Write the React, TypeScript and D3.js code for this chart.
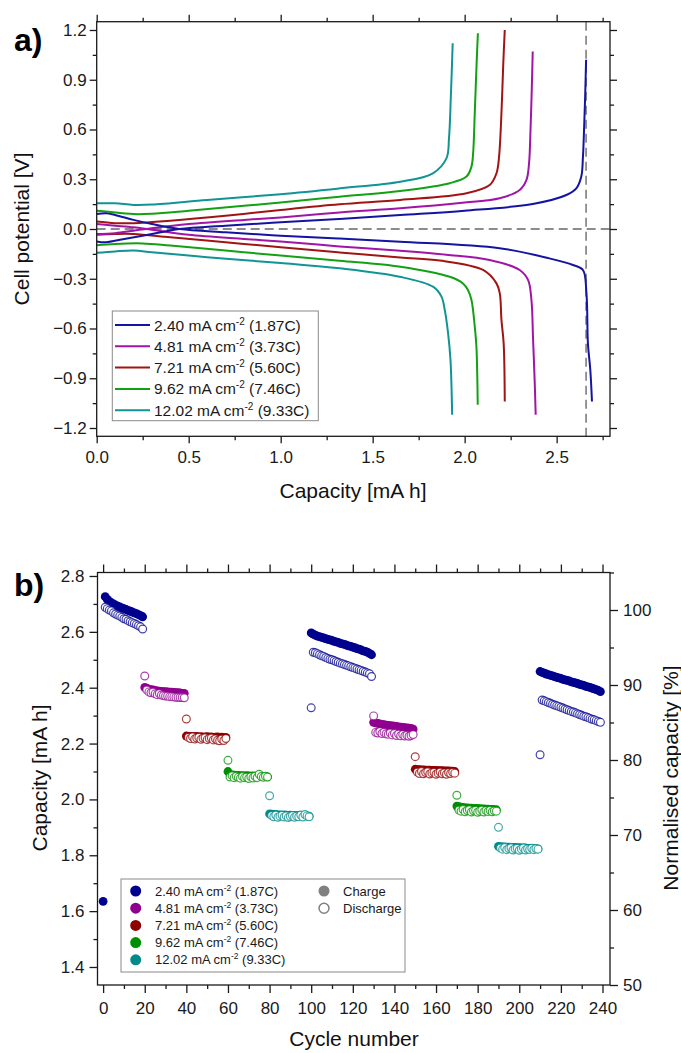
import React, { useEffect, useRef } from "react"
import * as d3 from "d3"

const rateColors = ["#00008f", "#8f008f", "#8f0000", "#008f00", "#008b8b"]
const lineColors = ["#1414a0", "#a014a8", "#a01414", "#14a014", "#109494"]
const currentDensity = ["2.40", "4.81", "7.21", "9.62", "12.02"]
const cRate = ["1.87C", "3.73C", "5.60C", "7.46C", "9.33C"]

// panel a: [capacity mA h, potential V]
const chargeCurves = [
    [[0, -0.075], [0.05, -0.08], [0.15, -0.06], [0.3, -0.03], [0.45, 0.0], [0.7, 0.02], [1.0, 0.04], [1.32, 0.06], [1.65, 0.084], [2.0, 0.11], [2.37, 0.151], [2.553, 0.205], [2.607, 0.245], [2.634, 0.316], [2.643, 0.436], [2.649, 0.6], [2.655, 0.8], [2.66, 1.02]],
    [[0, -0.03], [0.1, -0.025], [0.2, -0.01], [0.3, 0.005], [0.5, 0.03], [0.8, 0.055], [1.0, 0.07], [1.32, 0.1], [1.65, 0.125], [2.0, 0.16], [2.19, 0.185], [2.299, 0.235], [2.336, 0.296], [2.35, 0.396], [2.358, 0.6], [2.365, 0.85], [2.37, 1.07]],
    [[0, 0.045], [0.1, 0.035], [0.2, 0.035], [0.4, 0.05], [0.7, 0.08], [1.0, 0.115], [1.32, 0.149], [1.65, 0.175], [2.01, 0.215], [2.136, 0.265], [2.173, 0.336], [2.187, 0.436], [2.2, 0.7], [2.21, 1.0], [2.218, 1.2]],
    [[0, 0.11], [0.05, 0.105], [0.2, 0.09], [0.3, 0.092], [0.5, 0.11], [0.8, 0.14], [1.0, 0.16], [1.32, 0.195], [1.65, 0.229], [1.919, 0.276], [2.01, 0.316], [2.037, 0.376], [2.046, 0.456], [2.055, 0.7], [2.065, 1.0], [2.072, 1.18]],
    [[0, 0.155], [0.1, 0.155], [0.2, 0.145], [0.3, 0.147], [0.6, 0.175], [1.0, 0.21], [1.32, 0.245], [1.65, 0.285], [1.827, 0.336], [1.901, 0.426], [1.915, 0.55], [1.925, 0.8], [1.935, 1.12]]
]
const dischargeCurves = [
    [[0, 0.09], [0.05, 0.095], [0.1, 0.085], [0.2, 0.055], [0.3, 0.03], [0.45, 0.0], [0.7, -0.02], [1.0, -0.04], [1.32, -0.058], [1.65, -0.077], [2.19, -0.116], [2.46, -0.177], [2.589, -0.217], [2.643, -0.247], [2.662, -0.388], [2.67, -0.69], [2.683, -0.85], [2.692, -1.04]],
    [[0, 0.03], [0.1, 0.02], [0.2, 0.01], [0.3, -0.005], [0.5, -0.035], [0.8, -0.06], [1.0, -0.075], [1.32, -0.105], [1.65, -0.131], [1.9, -0.155], [2.136, -0.187], [2.299, -0.247], [2.345, -0.308], [2.363, -0.428], [2.372, -0.67], [2.381, -0.93], [2.386, -1.12]],
    [[0, -0.035], [0.1, -0.03], [0.2, -0.03], [0.4, -0.05], [0.7, -0.08], [1.0, -0.11], [1.32, -0.141], [1.65, -0.172], [1.865, -0.19], [2.1, -0.247], [2.173, -0.328], [2.191, -0.388], [2.2, -0.549], [2.212, -0.69], [2.218, -1.04]],
    [[0, -0.098], [0.1, -0.09], [0.25, -0.087], [0.4, -0.1], [0.7, -0.13], [1.0, -0.16], [1.32, -0.191], [1.65, -0.227], [1.919, -0.288], [1.991, -0.328], [2.018, -0.368], [2.037, -0.428], [2.055, -0.589], [2.064, -0.71], [2.071, -1.06]],
    [[0, -0.143], [0.1, -0.135], [0.2, -0.13], [0.3, -0.14], [0.6, -0.17], [1.0, -0.205], [1.32, -0.237], [1.647, -0.288], [1.828, -0.348], [1.874, -0.408], [1.892, -0.489], [1.91, -0.629], [1.923, -0.79], [1.932, -1.12]]
]
const dashedCapacity = 2.66

// panel b
const formationCharge = 1.635
const segRate = [0, 1, 2, 3, 4, 0, 1, 2, 3, 4, 0]
const segStart = [1, 20, 40, 60, 80, 100, 130, 150, 170, 190, 210]
const segCharge = [
    [2.726, 2.716, 2.709, 2.704, 2.700, 2.696, 2.692, 2.689, 2.686, 2.683, 2.680, 2.677, 2.674, 2.671, 2.668, 2.665, 2.662, 2.658, 2.654],
    [2.401, 2.398, 2.395, 2.393, 2.392, 2.390, 2.389, 2.388, 2.387, 2.386, 2.386, 2.385, 2.384, 2.384, 2.383, 2.382, 2.382, 2.381, 2.380, 2.380],
    [2.227, 2.226, 2.226, 2.225, 2.225, 2.226, 2.224, 2.225, 2.223, 2.224, 2.225, 2.223, 2.224, 2.222, 2.223, 2.224, 2.222, 2.223, 2.221, 2.222],
    [2.100, 2.090, 2.088, 2.087, 2.086, 2.086, 2.085, 2.085, 2.084, 2.085, 2.084, 2.083, 2.084, 2.083, 2.083, 2.082, 2.083, 2.082, 2.082, 2.081],
    [1.948, 1.947, 1.946, 1.946, 1.945, 1.945, 1.944, 1.945, 1.944, 1.943, 1.944, 1.943, 1.943, 1.942, 1.943, 1.942, 1.942, 1.941, 1.941, 1.940],
    [2.596, 2.592, 2.588, 2.585, 2.583, 2.580, 2.578, 2.576, 2.573, 2.571, 2.569, 2.566, 2.564, 2.562, 2.559, 2.557, 2.555, 2.552, 2.550, 2.548, 2.545, 2.543, 2.540, 2.538, 2.535, 2.532, 2.530, 2.527, 2.523, 2.518],
    [2.276, 2.274, 2.272, 2.270, 2.269, 2.268, 2.266, 2.265, 2.264, 2.263, 2.262, 2.261, 2.260, 2.259, 2.258, 2.257, 2.256, 2.255, 2.254, 2.252],
    [2.108, 2.107, 2.107, 2.106, 2.106, 2.105, 2.105, 2.105, 2.104, 2.104, 2.104, 2.103, 2.103, 2.103, 2.102, 2.102, 2.102, 2.101, 2.101, 2.100],
    [1.976, 1.974, 1.972, 1.971, 1.970, 1.970, 1.969, 1.969, 1.968, 1.968, 1.967, 1.967, 1.966, 1.966, 1.965, 1.965, 1.964, 1.964, 1.963, 1.963],
    [1.832, 1.831, 1.830, 1.830, 1.829, 1.829, 1.828, 1.828, 1.828, 1.827, 1.827, 1.826, 1.826, 1.826, 1.825, 1.825, 1.824, 1.824, 1.823, 1.823],
    [2.458, 2.455, 2.452, 2.449, 2.447, 2.444, 2.442, 2.440, 2.437, 2.435, 2.433, 2.430, 2.428, 2.426, 2.424, 2.421, 2.419, 2.417, 2.415, 2.412, 2.410, 2.408, 2.405, 2.403, 2.401, 2.398, 2.396, 2.393, 2.390, 2.386]
]
const segDischarge = [
    [2.688, 2.683, 2.678, 2.675, 2.668, 2.664, 2.660, 2.657, 2.652, 2.647, 2.645, 2.640, 2.636, 2.633, 2.630, 2.626, 2.622, 2.618, 2.610],
    [2.442, 2.392, 2.385, 2.382, 2.384, 2.378, 2.375, 2.379, 2.374, 2.372, 2.370, 2.370, 2.368, 2.368, 2.367, 2.366, 2.366, 2.365, 2.365, 2.364],
    [2.288, 2.222, 2.218, 2.224, 2.216, 2.220, 2.222, 2.215, 2.219, 2.221, 2.214, 2.218, 2.220, 2.213, 2.217, 2.212, 2.210, 2.216, 2.211, 2.218],
    [2.140, 2.080, 2.085, 2.078, 2.083, 2.079, 2.076, 2.082, 2.078, 2.080, 2.075, 2.081, 2.077, 2.083, 2.078, 2.090, 2.082, 2.079, 2.083, 2.080],
    [2.013, 1.942, 1.938, 1.944, 1.936, 1.940, 1.943, 1.937, 1.941, 1.935, 1.939, 1.942, 1.936, 1.940, 1.938, 1.944, 1.937, 1.946, 1.941, 1.938],
    [2.328, 2.527, 2.525, 2.522, 2.518, 2.514, 2.512, 2.508, 2.505, 2.502, 2.500, 2.497, 2.494, 2.491, 2.488, 2.486, 2.483, 2.480, 2.478, 2.475, 2.472, 2.470, 2.467, 2.464, 2.462, 2.459, 2.456, 2.453, 2.450, 2.440],
    [2.299, 2.240, 2.238, 2.243, 2.236, 2.240, 2.235, 2.233, 2.238, 2.231, 2.236, 2.229, 2.234, 2.228, 2.232, 2.227, 2.230, 2.226, 2.229, 2.232],
    [2.153, 2.098, 2.093, 2.100, 2.092, 2.096, 2.099, 2.091, 2.095, 2.097, 2.090, 2.094, 2.098, 2.092, 2.095, 2.090, 2.096, 2.093, 2.097, 2.094],
    [2.015, 1.962, 1.958, 1.964, 1.956, 1.960, 1.963, 1.955, 1.959, 1.961, 1.954, 1.958, 1.962, 1.955, 1.960, 1.957, 1.961, 1.956, 1.959, 1.958],
    [1.900, 1.826, 1.822, 1.828, 1.820, 1.824, 1.827, 1.819, 1.823, 1.825, 1.818, 1.822, 1.826, 1.819, 1.823, 1.821, 1.825, 1.820, 1.824, 1.822],
    [2.160, 2.356, 2.353, 2.350, 2.347, 2.344, 2.341, 2.338, 2.335, 2.333, 2.330, 2.327, 2.324, 2.321, 2.318, 2.315, 2.313, 2.310, 2.307, 2.304, 2.301, 2.298, 2.296, 2.293, 2.290, 2.287, 2.285, 2.282, 2.279, 2.276]
]

const FONT = "'Liberation Sans', Arial, sans-serif"
const AXIS_COLOR = "#1a1a1a"

function styleAxis(g, fontSize) {
    g.select(".domain").remove()
    g.selectAll("line").attr("stroke", AXIS_COLOR).attr("stroke-width", 1.3)
    g.selectAll("text").attr("font-family", FONT).attr("font-size", fontSize).attr("fill", "#1a1a1a")
}

function drawAxes(svg, x, y, opts) {
    const { left, right, top, bottom, xTicks, xMinor, yTicks, yMinor, major, minor, fmtX, fmtY, padX, padY, yRight, yrTicks, yrMinor, fmtYr } = opts
    // frame
    svg.append("rect")
        .attr("x", left).attr("y", top)
        .attr("width", right - left).attr("height", bottom - top)
        .attr("fill", "none").attr("stroke", AXIS_COLOR).attr("stroke-width", 1.3)

    const gb = svg.append("g").attr("transform", `translate(0,${bottom})`)
        .call(d3.axisBottom(x).tickValues(xTicks).tickSize(major).tickPadding(padX).tickFormat(fmtX))
    styleAxis(gb, 17)
    const gbm = svg.append("g").attr("transform", `translate(0,${bottom})`)
        .call(d3.axisBottom(x).tickValues(xMinor).tickSize(minor).tickFormat(() => ""))
    styleAxis(gbm, 17)
    const gt = svg.append("g").attr("transform", `translate(0,${top})`)
        .call(d3.axisTop(x).tickValues(xTicks).tickSize(major).tickFormat(() => ""))
    styleAxis(gt, 17)
    const gtm = svg.append("g").attr("transform", `translate(0,${top})`)
        .call(d3.axisTop(x).tickValues(xMinor).tickSize(minor).tickFormat(() => ""))
    styleAxis(gtm, 17)

    const gl = svg.append("g").attr("transform", `translate(${left},0)`)
        .call(d3.axisLeft(y).tickValues(yTicks).tickSize(major).tickPadding(padY).tickFormat(fmtY))
    styleAxis(gl, 17)
    const glm = svg.append("g").attr("transform", `translate(${left},0)`)
        .call(d3.axisLeft(y).tickValues(yMinor).tickSize(minor).tickFormat(() => ""))
    styleAxis(glm, 17)

    const ry = yRight || y
    const gr = svg.append("g").attr("transform", `translate(${right},0)`)
        .call(d3.axisRight(ry).tickValues(yRight ? yrTicks : yTicks).tickSize(major).tickPadding(padY)
            .tickFormat(yRight ? fmtYr : () => ""))
    styleAxis(gr, 17)
    const grm = svg.append("g").attr("transform", `translate(${right},0)`)
        .call(d3.axisRight(ry).tickValues(yRight ? yrMinor : yMinor).tickSize(minor).tickFormat(() => ""))
    styleAxis(grm, 17)
}

function rateLabel(sel, i, supSize) {
    sel.append("tspan").text(`${currentDensity[i]} mA cm`)
    sel.append("tspan").attr("dy", -supSize * 0.6).attr("font-size", supSize).text("-2")
    sel.append("tspan").attr("dy", supSize * 0.6).text(` (${cRate[i]})`)
}

export default function App() {
    const ref = useRef(null)

    useEffect(() => {
        const svg = d3.select(ref.current)
        svg.selectAll("*").remove()

        // ---------- panel a ----------
        const xA = d3.scaleLinear().domain([0, 2.79]).range([96.7, 610])
        const yA = d3.scaleLinear().domain([-1.25, 1.25]).range([436.3, 21.7])

        const pa = svg.append("g")
        const plotA = pa.append("g")
        // dashed reference lines
        plotA.append("line")
            .attr("x1", xA(0)).attr("x2", xA(2.79))
            .attr("y1", yA(0)).attr("y2", yA(0))
            .attr("stroke", "#8c8c8c").attr("stroke-width", 1.8).attr("stroke-dasharray", "9,5")
        plotA.append("line")
            .attr("x1", xA(dashedCapacity)).attr("x2", xA(dashedCapacity))
            .attr("y1", yA(1.25)).attr("y2", yA(-1.25))
            .attr("stroke", "#8c8c8c").attr("stroke-width", 1.8).attr("stroke-dasharray", "9,5")

        const line = d3.line()
            .x(d => xA(d[0]))
            .y(d => yA(d[1]))
            .curve(d3.curveCatmullRom.alpha(0.5))
        for (let i = 4; i >= 0; i--) {
            plotA.append("path").attr("d", line(chargeCurves[i]))
                .attr("fill", "none").attr("stroke", lineColors[i]).attr("stroke-width", 2)
            plotA.append("path").attr("d", line(dischargeCurves[i]))
                .attr("fill", "none").attr("stroke", lineColors[i]).attr("stroke-width", 2)
        }

        drawAxes(pa, xA, yA, {
            left: 96.7, right: 610, top: 21.7, bottom: 436.3,
            xTicks: [0, 0.5, 1, 1.5, 2, 2.5],
            xMinor: [0.25, 0.75, 1.25, 1.75, 2.25, 2.75],
            yTicks: d3.range(-1.2, 1.21, 0.3),
            yMinor: d3.range(-1.05, 1.1, 0.3),
            major: 7, minor: 4,
            fmtX: d3.format(".1f"), fmtY: d3.format(".1f"),
            padX: 8, padY: 3
        })

        // legend a
        const lgA = pa.append("g")
        lgA.append("rect").attr("x", 112.3).attr("y", 311).attr("width", 206).attr("height", 109.7)
            .attr("fill", "white").attr("stroke", "#8a8a8a").attr("stroke-width", 1)
        for (let i = 0; i < 5; i++) {
            const yy = 325 + i * 21.3
            lgA.append("line").attr("x1", 115).attr("x2", 150).attr("y1", yy).attr("y2", yy)
                .attr("stroke", lineColors[i]).attr("stroke-width", 2)
            const t = lgA.append("text").attr("x", 154).attr("y", yy + 5.5)
                .attr("font-family", FONT).attr("font-size", 15.5).attr("fill", "#1a1a1a")
            rateLabel(t, i, 10)
        }

        pa.append("text").attr("x", 353).attr("y", 498).attr("text-anchor", "middle")
            .attr("font-family", FONT).attr("font-size", 21).attr("fill", "#111")
            .text("Capacity [mA h]")
        pa.append("text").attr("transform", `translate(29,229) rotate(-90)`).attr("text-anchor", "middle")
            .attr("font-family", FONT).attr("font-size", 21).attr("fill", "#111")
            .text("Cell potential [V]")
        pa.append("text").attr("x", 14).attr("y", 51)
            .attr("font-family", FONT).attr("font-weight", "bold").attr("font-size", 32).attr("fill", "#000")
            .text("a)")

        // ---------- panel b ----------
        const xB = d3.scaleLinear().domain([-2.7, 243.6]).range([97.5, 610])
        const yB = d3.scaleLinear().domain([1.3355, 2.8125]).range([985, 572.5])
        const yBr = d3.scaleLinear().domain([50, 105]).range([985, 572.5])

        const pb = svg.append("g")
        drawAxes(pb, xB, yB, {
            left: 97.5, right: 610, top: 572.5, bottom: 985,
            xTicks: d3.range(0, 241, 20),
            xMinor: d3.range(10, 241, 20),
            yTicks: d3.range(1.4, 2.81, 0.2),
            yMinor: d3.range(1.5, 2.8, 0.2),
            major: 8, minor: 4,
            fmtX: d3.format("d"), fmtY: d3.format(".1f"),
            padX: 9, padY: 5,
            yRight: yBr, yrTicks: d3.range(50, 101, 10), yrMinor: d3.range(55, 106, 10), fmtYr: d3.format("d")
        })

        const pts = pb.append("g")
        const chargePts = [{ c: 0, v: formationCharge, r: 0 }]
        const dischargePts = []
        segCharge.forEach((vals, s) => {
            vals.forEach((v, k) => chargePts.push({ c: segStart[s] + k, v, r: segRate[s] }))
        })
        segDischarge.forEach((vals, s) => {
            vals.forEach((v, k) => dischargePts.push({ c: segStart[s] + k, v, r: segRate[s] }))
        })
        pts.selectAll("circle.charge").data(chargePts).enter().append("circle")
            .attr("class", "charge")
            .attr("cx", d => xB(d.c)).attr("cy", d => yB(d.v)).attr("r", 4.4)
            .attr("fill", d => rateColors[d.r])
        pts.selectAll("circle.discharge").data(dischargePts).enter().append("circle")
            .attr("class", "discharge")
            .attr("cx", d => xB(d.c)).attr("cy", d => yB(d.v)).attr("r", 3.9)
            .attr("fill", "white").attr("stroke", d => rateColors[d.r]).attr("stroke-width", 1.2)
            .attr("stroke-opacity", 0.75)

        // legend b
        const lgB = pb.append("g")
        lgB.append("rect").attr("x", 121).attr("y", 879).attr("width", 284).attr("height", 93)
            .attr("fill", "white").attr("stroke", "#8a8a8a").attr("stroke-width", 1)
        for (let i = 0; i < 5; i++) {
            const yy = 891 + i * 17.2
            lgB.append("circle").attr("cx", 135.7).attr("cy", yy).attr("r", 5.5).attr("fill", rateColors[i])
            const t = lgB.append("text").attr("x", 155).attr("y", yy + 4.6)
                .attr("font-family", FONT).attr("font-size", 13).attr("fill", "#1a1a1a")
            rateLabel(t, i, 8.5)
        }
        lgB.append("circle").attr("cx", 324).attr("cy", 891).attr("r", 5.5).attr("fill", "#808080")
        lgB.append("circle").attr("cx", 324).attr("cy", 908.2).attr("r", 5).attr("fill", "white")
            .attr("stroke", "#808080").attr("stroke-width", 1.5)
        lgB.append("text").attr("x", 343).attr("y", 895.6).attr("font-family", FONT).attr("font-size", 13)
            .attr("fill", "#1a1a1a").text("Charge")
        lgB.append("text").attr("x", 343).attr("y", 912.8).attr("font-family", FONT).attr("font-size", 13)
            .attr("fill", "#1a1a1a").text("Discharge")

        pb.append("text").attr("x", 354).attr("y", 1046).attr("text-anchor", "middle")
            .attr("font-family", FONT).attr("font-size", 21).attr("fill", "#111")
            .text("Cycle number")
        pb.append("text").attr("transform", `translate(47,778) rotate(-90)`).attr("text-anchor", "middle")
            .attr("font-family", FONT).attr("font-size", 21).attr("fill", "#111")
            .text("Capacity [mA h]")
        pb.append("text").attr("transform", `translate(678,778) rotate(-90)`).attr("text-anchor", "middle")
            .attr("font-family", FONT).attr("font-size", 21).attr("fill", "#111")
            .text("Normalised capacity [%]")
        pb.append("text").attr("x", 14).attr("y", 596)
            .attr("font-family", FONT).attr("font-weight", "bold").attr("font-size", 32).attr("fill", "#000")
            .text("b)")
    }, [])

    return (
        <svg ref={ref} width={681} height={1053}
            style={{ position: "absolute", left: 0, top: 0, background: "white" }} />
    )
}
